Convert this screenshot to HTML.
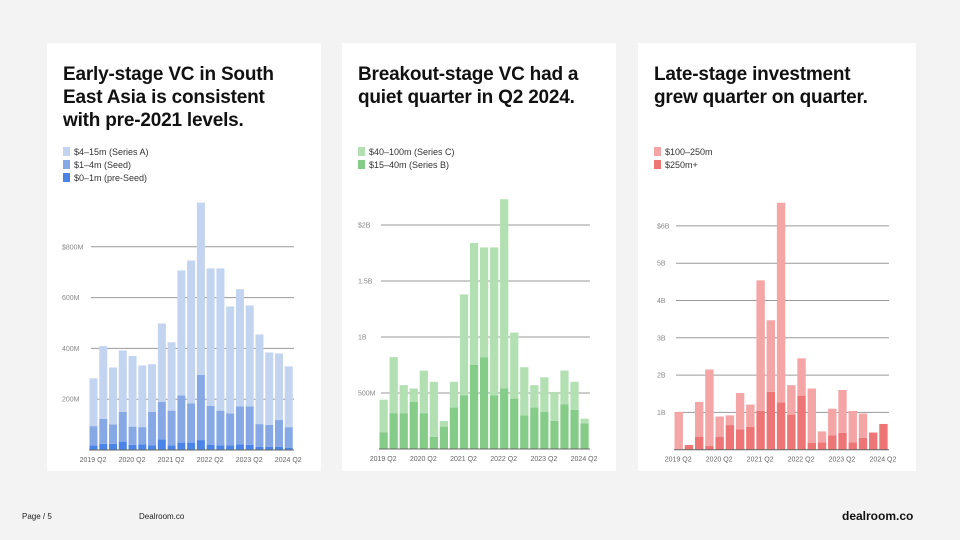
<!DOCTYPE html>
<html><head><meta charset="utf-8">
<style>
body{margin:0;width:960px;height:540px;background:#f3f3f3;font-family:"Liberation Sans",sans-serif;position:relative;overflow:hidden}
.card{position:absolute;top:43px;height:428px;background:#fff}
.title{position:absolute;left:16px;top:20px;font-weight:bold;font-size:19px;line-height:23px;color:#111;letter-spacing:-0.2px}
.leg{position:absolute;left:16px;font-size:9px;color:#333}
.leg i{display:inline-block;width:7px;height:9px;margin-right:4px;vertical-align:-1px}
svg{position:absolute;left:0;top:0}
.foot{position:absolute;top:512px;font-size:8px;color:#222}
</style></head><body>
<div class="card" style="left:47px;width:274px">
 <div class="title">Early-stage VC in South<br>East Asia is consistent<br>with pre-2021 levels.</div>
 <div class="leg" style="top:104px"><i style="background:#c3d4f1"></i>$4–15m (Series A)</div>
 <div class="leg" style="top:117px"><i style="background:#86a9e6"></i>$1–4m (Seed)</div>
 <div class="leg" style="top:130px"><i style="background:#4a84e6"></i>$0–1m (pre-Seed)</div>
</div>
<div class="card" style="left:342px;width:274px">
 <div class="title">Breakout-stage VC had a<br>quiet quarter in Q2 2024.</div>
 <div class="leg" style="top:104px"><i style="background:#b2e0b2"></i>$40–100m (Series C)</div>
 <div class="leg" style="top:117px"><i style="background:#84cc88"></i>$15–40m (Series B)</div>
</div>
<div class="card" style="left:638px;width:278px">
 <div class="title">Late-stage investment<br>grew quarter on quarter.</div>
 <div class="leg" style="top:104px"><i style="background:#f4a5a5"></i>$100–250m</div>
 <div class="leg" style="top:117px"><i style="background:#ee7575"></i>$250m+</div>
</div>
<svg id="chart" width="960" height="540"></svg>
<div class="foot" style="left:22px">Page / 5</div>
<div class="foot" style="left:139px">Dealroom.co</div>
<div style="position:absolute;left:842px;top:509px;font-weight:bold;font-size:12px;color:#111">dealroom.co</div>
<script>
const quarters = ["2019 Q2","2019 Q3","2019 Q4","2020 Q1","2020 Q2","2020 Q3","2020 Q4","2021 Q1","2021 Q2","2021 Q3","2021 Q4","2022 Q1","2022 Q2","2022 Q3","2022 Q4","2023 Q1","2023 Q2","2023 Q3","2023 Q4","2024 Q1","2024 Q2"];
const xTickLabels = ["2019 Q2","2020 Q2","2021 Q2","2022 Q2","2023 Q2","2024 Q2"];
// chart 1 (M USD)
const early_preSeed = [18,24,24,33,20,22,18,42,18,29,29,39,21,18,18,22,20,13,12,12,8];
const early_seed = [76,99,77,117,72,68,132,147,137,186,155,257,153,137,126,150,152,89,87,106,82];
const early_seriesA = [188,286,224,242,278,243,188,309,269,492,562,678,541,560,421,461,397,353,285,262,239];
const earlyTicks = [200,400,600,800];
const earlyTickLabels = ["200M","400M","600M","$800M"];
// chart 2 (B USD)
const brk_seriesB = [0.15,0.32,0.32,0.42,0.32,0.11,0.20,0.37,0.48,0.75,0.82,0.48,0.54,0.45,0.30,0.37,0.33,0.25,0.40,0.35,0.23];
const brk_seriesC = [0.29,0.50,0.25,0.12,0.38,0.49,0.05,0.23,0.90,1.09,0.98,1.32,1.69,0.59,0.43,0.20,0.31,0.26,0.30,0.25,0.04];
const brkTicks = [0.5,1,1.5,2];
const brkTickLabels = ["500M","1B","1.5B","$2B"];
// chart 3 (B USD)
const late_250plus = [0,0.125,0.35,0.1,0.35,0.66,0.55,0.61,1.04,1.55,1.27,0.94,1.45,0.18,0.2,0.38,0.45,0.2,0.32,0.46,0.69];
const late_100_250 = [1.01,0,0.93,2.05,0.54,0.26,0.97,0.6,3.5,1.92,5.35,0.79,1.0,1.46,0.29,0.72,1.15,0.84,0.65,0,0];
const lateTicks = [1,2,3,4,5,6];
const lateTickLabels = ["1B","2B","3B","4B","5B","$6B"];

const svg = document.getElementById('chart');
const NS = 'http://www.w3.org/2000/svg';
function mk(tag, attrs){const e=document.createElementNS(NS,tag);for(const k in attrs)e.setAttribute(k,attrs[k]);svg.appendChild(e);return e;}

function drawChart(cfg){
  const {x0,x1,base,unitPx,series,colors,ticks,tickLabels,labelX,name} = cfg;
  const n = quarters.length, step=(x1-x0)/n, bw=step*0.82;
  const y = v => base - v*unitPx;
  const xs = i => x0 + i*step;
  ticks.forEach((t,i)=>{
    const l = mk('line',{x1:x0+2,x2:x1,y1:y(t),y2:y(t),stroke:'#9a9a9a','stroke-width':1});
    
    
    const tx = mk('text',{x:labelX,y:y(t)+2.5,'font-size':7,fill:'#888','font-family':'Liberation Sans, sans-serif'});
    tx.textContent = tickLabels[i];
    
    
  });
  for(let i=0;i<n;i++){
    let acc=0;
    series.forEach((s,k)=>{
      const v=s[i]; if(v<=0) return;
      const r = mk('rect',{x:xs(i)+0.5,y:y(acc+v),width:bw,height:v*unitPx,fill:colors[k]});
      
      
      acc+=v;
    });
  }
  const ax = mk('line',{x1:x0,x2:x1,y1:base,y2:base,stroke:'#666','stroke-width':1});
  
  
  xTickLabels.forEach(lbl=>{
    const i = quarters.indexOf(lbl);
    const t = mk('text',{x:xs(i)+bw/2,y:base+12,'font-size':7,fill:'#666','text-anchor':'middle','font-family':'Liberation Sans, sans-serif'});
    t.textContent = lbl;
    
    
  });
}
drawChart({name:'early',x0:89,x1:294,base:450,unitPx:50.8/200,series:[early_preSeed,early_seed,early_seriesA],colors:['#4a84e6','#86a9e6','#c3d4f1'],ticks:earlyTicks,tickLabels:earlyTickLabels,labelX:62});
drawChart({name:'breakout',x0:379,x1:590,base:449,unitPx:112,series:[brk_seriesB,brk_seriesC],colors:['#84cc88','#b2e0b2'],ticks:brkTicks,tickLabels:brkTickLabels,labelX:358});
drawChart({name:'late',x0:674,x1:889,base:449.7,unitPx:37.3,series:[late_250plus,late_100_250],colors:['#ee7575','#f4a5a5'],ticks:lateTicks,tickLabels:lateTickLabels,labelX:657});
</script>
</body></html>
